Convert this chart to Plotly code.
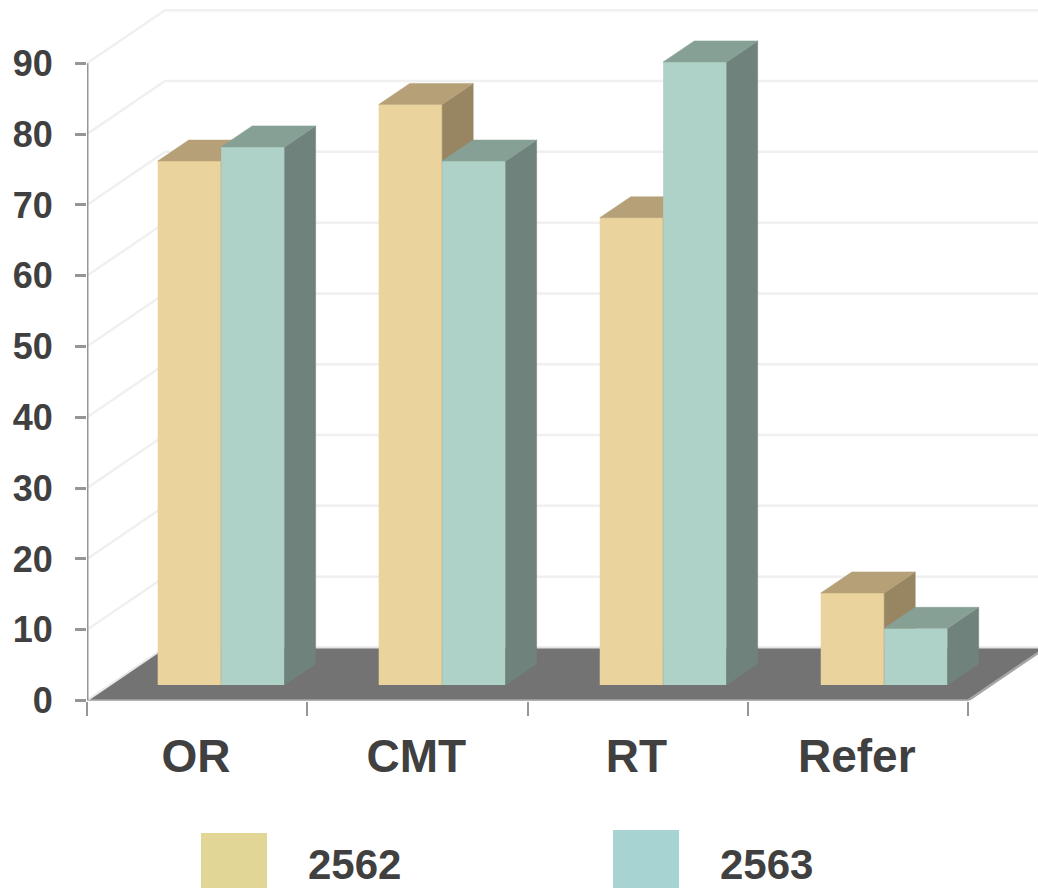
import plotly.graph_objects as go

categories = ["OR", "CMT", "RT", "Refer"]
series_2562 = [74, 82, 66, 13]
series_2563 = [76, 74, 88, 8]
y_ticks = [0, 10, 20, 30, 40, 50, 60, 70, 80, 90]
series_names = ["2562", "2563"]

W, H = 1038, 888
X0_PX, Y0_PX = 87.0, 700.5
CAT_PX = 220.25
UNIT_PX = 7.08
X_MIN = -0.5
X_MAX = X_MIN + (W - X0_PX) / CAT_PX
Y_MAX = Y0_PX / UNIT_PX

FRONT_DX, FRONT_DY = 0.109, 2.19      # front plane of the bars within the 3D box
BOX_DX, BOX_DY = 0.354, 7.49          # full depth of the box
BAR_DX, BAR_DY = 0.141, 2.97          # depth of one bar
BAR_W = 0.288
BAR_STEP = 1.0035                     # bar groups sit slightly wider apart than the ticks

pos = list(range(len(categories)))
FONT = "Liberation Sans"
TEXT = "#404040"


def poly(xs, ys, color, xaxis="x", yaxis="y"):
    return go.Scatter(x=xs, y=ys, mode="lines", fill="toself", fillcolor=color,
                      line=dict(color=color, width=0.5), hoverinfo="skip",
                      showlegend=False, xaxis=xaxis, yaxis=yaxis)


def top_side(centers, vals, top_c, side_c, xa, ya):
    tx, ty, sx, sy = [], [], [], []
    for c, v in zip(centers, vals):
        l, r = c - BAR_W / 2, c + BAR_W / 2
        t = FRONT_DY + v
        tx += [l, r, r + BAR_DX, l + BAR_DX, l, None]
        ty += [t, t, t + BAR_DY, t + BAR_DY, t, None]
        sx += [r, r + BAR_DX, r + BAR_DX, r, r, None]
        sy += [FRONT_DY, FRONT_DY + BAR_DY, t + BAR_DY, t, FRONT_DY, None]
    return [poly(sx, sy, side_c, xa, ya), poly(tx, ty, top_c, xa, ya)]


fig = go.Figure()

# Back wall / side wall gridlines
gx, gy = [], []
for v in y_ticks[1:]:
    gx += [X_MIN, X_MIN + BOX_DX, X_MAX, None]
    gy += [v, v + BOX_DY, v + BOX_DY, None]
fig.add_trace(go.Scatter(x=gx, y=gy, mode="lines", line=dict(color="#f0f0f0", width=2.5),
                         hoverinfo="skip", showlegend=False))

# Floor
x_end = X_MIN + len(categories)
fig.add_trace(poly([X_MIN, x_end, x_end + BOX_DX, X_MIN + BOX_DX, X_MIN],
                   [0, 0, BOX_DY, BOX_DY, 0], "#737373"))
fig.add_trace(go.Scatter(x=[X_MIN + BOX_DX, X_MAX], y=[BOX_DY, BOX_DY], mode="lines",
                         line=dict(color="#e4e4e4", width=2), hoverinfo="skip", showlegend=False))
fig.add_trace(go.Scatter(x=[X_MIN, x_end, x_end + BOX_DX], y=[0, 0, BOX_DY], mode="lines",
                         line=dict(color="#a6a6a6", width=2.5), hoverinfo="skip", showlegend=False))
fig.add_trace(go.Scatter(x=[X_MIN, X_MIN + BOX_DX], y=[0, BOX_DY], mode="lines",
                         line=dict(color="#e8e8e8", width=2), hoverinfo="skip", showlegend=False))

# Vertical axis line
fig.add_trace(go.Scatter(x=[X_MIN, X_MIN], y=[0, y_ticks[-1]], mode="lines", cliponaxis=False,
                         line=dict(color="#969696", width=3), hoverinfo="skip", showlegend=False))

# 2562 (overlay 2, above the floor and gridlines)
c1 = [p * BAR_STEP + FRONT_DX - BAR_W / 2 for p in pos]
fig.add_trace(go.Bar(x=c1, y=series_2562, base=FRONT_DY, width=BAR_W, name=series_names[0],
                     marker=dict(color="#ead39c", line=dict(width=0)), showlegend=False,
                     xaxis="x2", yaxis="y2"))
for t in top_side(c1, series_2562, "#b5a078", "#988662", "x2", "y2"):
    fig.add_trace(t)

# 2563 (overlay 3, its front hides the side of 2562)
c2 = [p * BAR_STEP + FRONT_DX + BAR_W / 2 for p in pos]
fig.add_trace(go.Bar(x=c2, y=series_2563, base=FRONT_DY, width=BAR_W, name=series_names[1],
                     marker=dict(color="#afd2c8", line=dict(width=0)), showlegend=False,
                     xaxis="x3", yaxis="y3"))
for t in top_side(c2, series_2563, "#87a095", "#6f827b", "x3", "y3"):
    fig.add_trace(t)

x_domain = [X0_PX / W, 1]
y_domain = [(H - Y0_PX) / H, 1]

shapes = [
    dict(type="rect", xref="paper", yref="paper", x0=201 / W, x1=267 / W,
         y0=0, y1=(H - 833) / H, fillcolor="#e2d696", line=dict(width=0)),
    dict(type="rect", xref="paper", yref="paper", x0=613 / W, x1=679 / W,
         y0=0, y1=(H - 830) / H, fillcolor="#a8d3d3", line=dict(width=0)),
]
annotations = [
    dict(text=series_names[0], xref="paper", yref="paper", x=354 / W, y=(H - 864) / H,
         showarrow=False, xanchor="center", yanchor="middle",
         font=dict(family=FONT, size=42, color=TEXT, weight=700)),
    dict(text=series_names[1], xref="paper", yref="paper", x=766 / W, y=(H - 864) / H,
         showarrow=False, xanchor="center", yanchor="middle",
         font=dict(family=FONT, size=42, color=TEXT, weight=700)),
]

fig.update_layout(
    width=W, height=H, margin=dict(l=0, r=0, t=0, b=0),
    paper_bgcolor="white", plot_bgcolor="white", showlegend=False,
    barmode="overlay", shapes=shapes, annotations=annotations,
    xaxis=dict(domain=x_domain, range=[X_MIN, X_MAX], tickmode="array",
               tickvals=[p - 0.005 for p in pos],
               ticktext=categories, ticks="", showgrid=False, zeroline=False, showline=False,
               automargin=False,
               tickfont=dict(family=FONT, size=46, color=TEXT, weight=700),
               ticklabelstandoff=24,
               minor=dict(tick0=-0.5, dtick=1, ticks="outside", ticklen=14, tickwidth=2,
                          tickcolor="#969696", showgrid=False)),
    yaxis=dict(domain=y_domain, range=[0, Y_MAX], tickmode="array", tickvals=y_ticks,
               ticks="outside", ticklen=11, tickwidth=2.5, tickcolor="#969696",
               showgrid=False, zeroline=False, showline=False, ticklabelstandoff=15,
               automargin=False,
               tickfont=dict(family=FONT, size=36, color=TEXT, weight=700)),
    xaxis2=dict(domain=x_domain, range=[X_MIN, X_MAX], overlaying="x", visible=False, anchor="y2"),
    yaxis2=dict(domain=y_domain, range=[0, Y_MAX], overlaying="y", visible=False, anchor="x2"),
    xaxis3=dict(domain=x_domain, range=[X_MIN, X_MAX], overlaying="x", visible=False, anchor="y3"),
    yaxis3=dict(domain=y_domain, range=[0, Y_MAX], overlaying="y", visible=False, anchor="x3"),
)

fig.write_html("out.html", config=dict(displayModeBar=False, responsive=False),
               default_width="1038px", default_height="888px",
               post_script="document.body.style.margin='0';")
